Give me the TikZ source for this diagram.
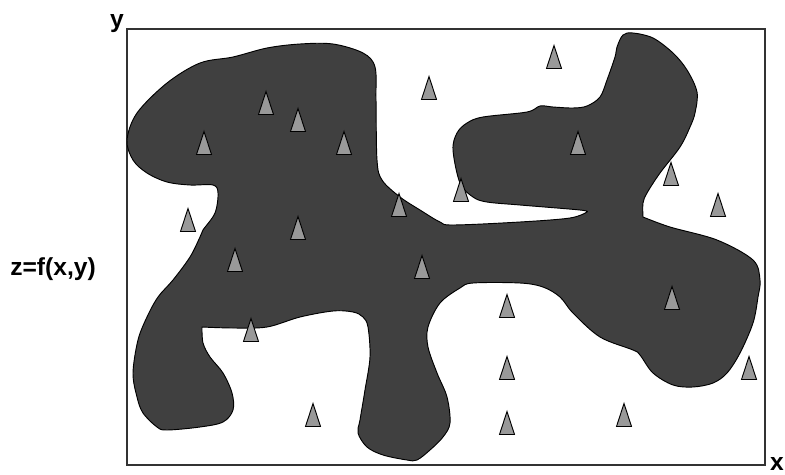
\documentclass[tikz,border=0pt]{standalone}
\usepackage{fontspec}
\setmainfont{Liberation Sans}
\usepackage{tikz}
\definecolor{mydark}{rgb}{0.25, 0.25, 0.25}
\definecolor{mygray}{rgb}{0.6, 0.6, 0.6}
\tikzstyle{frame} = [draw=black!80, line width=0.9pt]
\tikzstyle{blob} = [draw=black, line width=0.8pt, fill=mydark, line join=round]
\tikzstyle{sample} = [draw=black, line width=0.8pt, fill=mygray, line join=miter]
\tikzstyle{axislabel} = [font=\fontsize{21}{24}\selectfont\bfseries, inner sep=0pt]

\begin{document}
\begin{tikzpicture}[x=0.03cm, y=-0.03cm]
    \useasboundingbox (0,0) rectangle (785,474);

    % plot frame
    \draw [frame] (127,29) rectangle (765,465);

    % region of the field
    \draw [blob] plot[smooth, tension=0.55] coordinates {(202,327) (203,343) (210,357) (223,373) (232,393) (233,410) (223,422) (200,427) (167,430) (157,427) (143,413) (137,397) (133,373) (138,340) (147,317) (158,297) (173,280) (190,257) (200,237) (203,230) (215,213) (218,193) (213,185) (190,185) (167,182) (147,173) (133,160) (127,140) (137,113) (167,83) (200,63) (233,57) (267,48) (300,44) (333,44) (363,53) (375,67) (376,100) (377,160) (382,180) (400,197) (420,210) (440,222) (453,225) (520,222) (570,218) (587,212)}
        -- plot[smooth, tension=0.55] coordinates {(587,212) (580,210) (520,205) (487,202) (473,197) (460,183) (453,150) (457,133) (467,123) (483,117) (527,112) (540,106) (553,107) (573,108) (587,106) (600,97) (607,80) (615,57) (617,47) (623,35) (633,33) (653,38) (673,53) (687,70) (697,92) (695,113) (690,127) (680,147) (660,173) (647,193) (643,203) (643,217)}
        -- plot[smooth, tension=0.55] coordinates {(643,217) (670,227) (717,240) (753,260) (760,280) (758,297) (753,323) (740,353) (727,373) (713,383) (693,387) (673,385) (653,373) (640,355) (633,350) (600,337) (573,313) (560,297) (543,287) (520,283) (473,283) (460,288) (440,303) (428,327) (428,347) (437,373) (447,397) (450,423) (443,437) (430,450) (417,460) (407,460) (383,455) (367,447) (358,433) (360,420) (365,390) (370,357) (368,327) (363,317) (353,312) (333,311) (300,317) (267,327) (233,328) (202,327)}
        -- cycle;

    % sample points
    \foreach \px/\py in {266/103, 298/120, 204/143, 344/143, 429/88, 554/57, 578/143,
                         188/220, 298/228, 399/205, 461/190, 671/174, 718/205,
                         235/260, 422/267, 251/330, 507/306, 672/298,
                         313/415, 507/368, 749/368, 507/423, 624/415}
        \draw [sample, shift={(\px,\py)}] (-7.5,11.5) -- (0,-11.5) -- (7.5,11.5) -- cycle;

    % axes
    \node (ylab) [axislabel, anchor=base] at (117,27) {y};
    \node (xlab) [axislabel, anchor=base] at (777,470) {x};
    \node (zlab) [axislabel, anchor=base] at (53,275) {z=f(x,y)};
\end{tikzpicture}
\end{document}
